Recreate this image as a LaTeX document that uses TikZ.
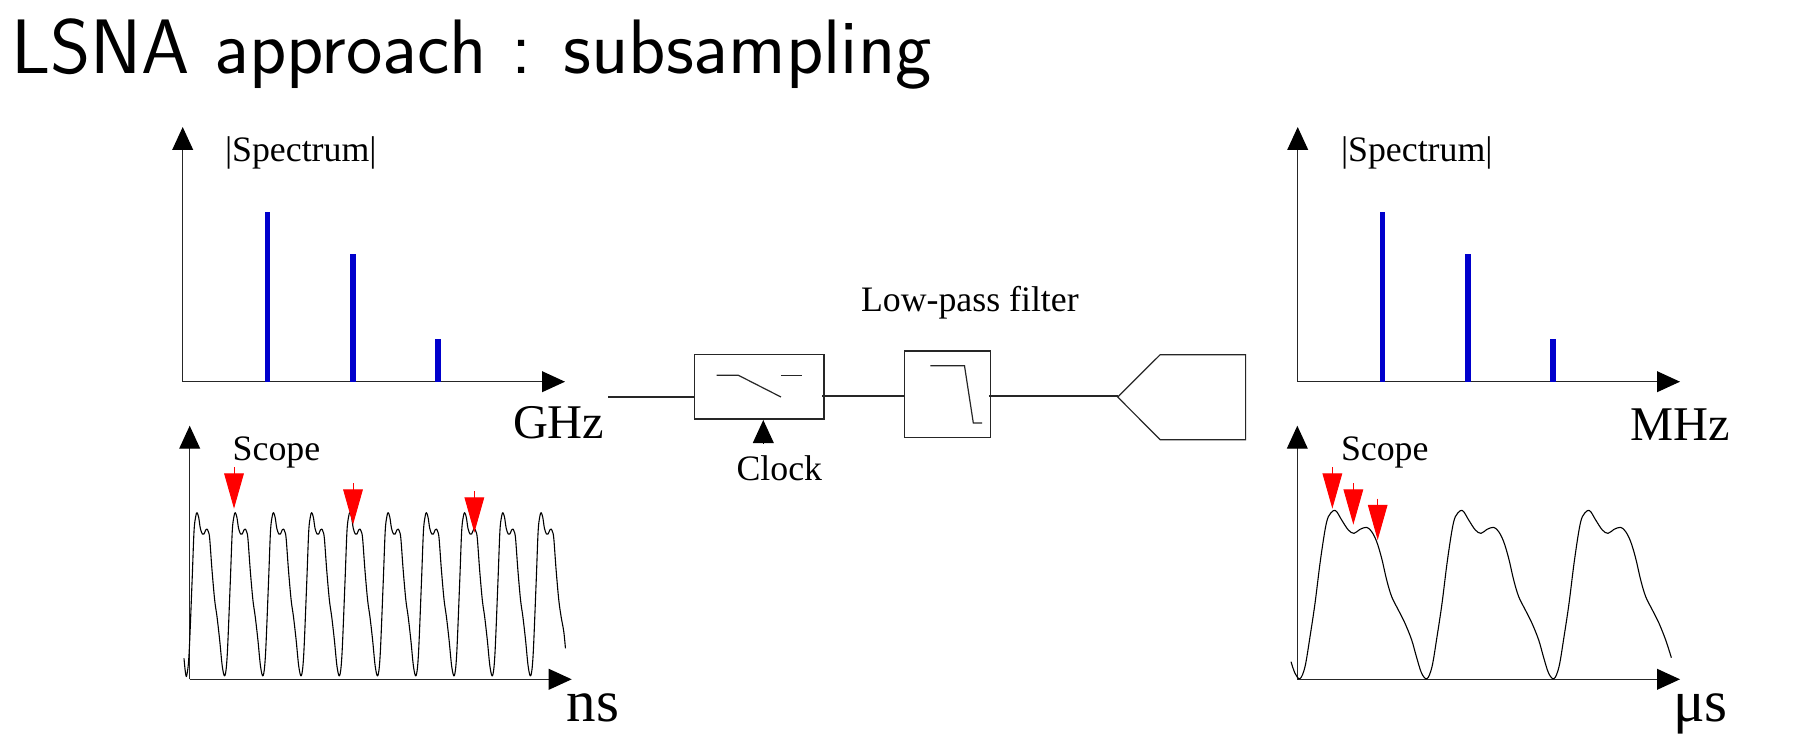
\documentclass[tikz,border=0pt]{standalone}
\usepackage{fontspec}
\setmainfont{Liberation Serif}
\usetikzlibrary{arrows.meta}
\newcommand{\fs}[1]{\fontsize{#1}{#1}\selectfont}
% build the two waveforms from one pulse shape
\newcommand{\addpulse}[3]{% #1 target macro, #2 offset, #3 list macro
  \foreach \dd/\vv in #3 {%
    \pgfmathsetmacro\xx{#2+\dd}%
    \xdef#1{#1 (\xx,\vv)}%
  }}
\def\fastfull{0/797,7/735,16/520,22/365,27/320,31/308,36/322,41/355,47/372,52/372,57/360,61/357,65/365,69/385,76/480,84/570,91/620,99/690,107/770}
\def\fastlast{0/797,7/735,16/520,22/365,27/320,31/308,36/322,41/355,47/372,52/372,57/360,61/357,65/365,69/385,76/480,84/570,91/620,99/665,104/715}
\def\slowfull{0/806,15/770,30/680,45/580,60/460,75/360,85/320,100/302,110/305,125/330,145/360,162/370,180/358,200/352,215/365,230/395,245/445,260/510,275/560,295/600,315/640,335/690,350/743,365/790}
\def\slowlast{0/806,15/770,30/680,45/580,60/460,75/360,85/320,100/302,110/305,125/330,145/360,162/370,180/358,200/352,215/365,230/395,245/445,260/510,275/560,295/600,315/640,335/690,352/743}
\gdef\fastpts{(72,745) (76,785)}
\foreach \kk in {0,...,8}{\pgfmathsetmacro\off{80+114.7*\kk}\addpulse{\fastpts}{\off}{\fastfull}}
\pgfmathsetmacro\off{80+114.7*9}\addpulse{\fastpts}{\off}{\fastlast}
\gdef\slowpts{(63,755) (75,790)}
\foreach \kk in {0,1}{\pgfmathsetmacro\off{90+381*\kk}\addpulse{\slowpts}{\off}{\slowfull}}
\pgfmathsetmacro\off{90+381*2}\addpulse{\slowpts}{\off}{\slowlast}
\definecolor{barblue}{HTML}{0000CC}
\tikzset{
  axisline/.style={line width=.65pt,color=black!85,-{Triangle[length=11.5pt,width=10.4pt,color=black]}},
  specbar/.style={line width=2.7pt,color=barblue},
  textlabel/.style={inner sep=0pt,outer sep=0pt,anchor=base west},
  smalltext/.style={textlabel,font=\fs{17.9}},
  bigtext/.style={textlabel,font=\fs{24.2}},
  unittext/.style={textlabel,font=\fs{29.5}},
  wavecurve/.style={line width=.55pt,line join=round},
  probe/.style={line width=.5pt,color=red,-{Triangle[length=17.6pt,width=9.8pt,color=red]}},
  blockline/.style={line width=.6pt,color=black!85},
  clocktip/.style={line width=.6pt,-{Triangle[length=11.5pt,width=10.4pt,color=black]}},
}
\begin{document}
\begin{tikzpicture}[x=.5pt,y=-.5pt]
\useasboundingbox[fill=white] (0,0) rectangle (1813,754);

\node[textlabel,font=\sffamily\fs{38.6}] (title) at (11,74) {LSNA approach : subsampling};

% upper left spectrum
\coordinate (o1) at (182.7,381.7);
\coordinate (y1) at (182.7,127);
\coordinate (x1) at (565,381.7);
\draw[axisline] (o1) -- (y1);
\draw[axisline] (o1) -- (x1);
\foreach \n/\x/\t in {a/267.7/211.7,b/353/254.3,c/438/339}{
  \coordinate (t\n) at (\x,\t);
  \coordinate (f\n) at (\x,381.7);
  \draw[specbar] (f\n) -- (t\n);
}
\node[smalltext] (s1) at (225,161.7) {|Spectrum|};
\node[bigtext] (ghz) at (513,438) {GHz};

% upper right spectrum
\coordinate (o2) at (1297.7,381.7);
\coordinate (y2) at (1297.7,127);
\coordinate (x2) at (1680,381.7);
\draw[axisline] (o2) -- (y2);
\draw[axisline] (o2) -- (x2);
\foreach \n/\x/\t in {d/1382.7/211.7,e/1468/254.3,g/1553/339}{
  \coordinate (t\n) at (\x,\t);
  \coordinate (f\n) at (\x,381.7);
  \draw[specbar] (f\n) -- (t\n);
}
\node[smalltext] (s2) at (1341,161.7) {|Spectrum|};
\node[bigtext] (mhz) at (1630,440.7) {MHz};

% lower left scope
\coordinate (o3) at (189.7,679.3);
\coordinate (y3) at (189.7,425.7);
\coordinate (x3) at (571.7,679.3);
\draw[axisline] (o3) -- (y3);
\draw[axisline] (o3) -- (x3);
\node[smalltext] (sc1) at (232.7,460) {Scope};
\node[unittext] (ns) at (566.5,721.7) {ns};
\begin{scope}[shift={(80pt,-205pt)},x=.16667pt,y=-.16667pt]
  \edef\wavedraw{\noexpand\draw[wavecurve] plot[smooth,tension=.55] coordinates {\fastpts};}\wavedraw
  \foreach \n/\x/\a/\b in {p/222/172/296,q/579/220/344,r/943/244/368}{
    \coordinate (\n0) at (\x,\a);
    \coordinate (\n1) at (\x,\b);
    \draw[probe] (\n0) -- (\n1);
  }
\end{scope}

% lower right scope
\coordinate (o4) at (1297.3,679.3);
\coordinate (y4) at (1297.3,425.7);
\coordinate (x4) at (1680,679.3);
\draw[axisline] (o4) -- (y4);
\draw[axisline] (o4) -- (x4);
\node[smalltext] (sc2) at (1341,460) {Scope};
\node[unittext] (us) at (1673,721.7) {μs};
\begin{scope}[shift={(635pt,-205pt)},x=.16667pt,y=-.16667pt]
  \edef\wavedraw{\noexpand\draw[wavecurve] plot[smooth,tension=.55] coordinates {\slowpts};}\wavedraw
  \foreach \n/\x/\a/\b in {u/187/172/296,v/250/220/344,w/323/266/390}{
    \coordinate (\n0) at (\x,\a);
    \coordinate (\n1) at (\x,\b);
    \draw[probe] (\n0) -- (\n1);
  }
\end{scope}

% centre chain (crop scale: x 2.376, y 3)
\begin{scope}[shift={(300pt,-135pt)},x=.21044pt,y=-.16667pt]
  \coordinate (in) at (20,381);
  \coordinate (swW) at (225,381);
  \coordinate (swE) at (528,378);
  \coordinate (lpW) at (723,378);
  \coordinate (lpE) at (924,378);
  \coordinate (adc) at (1230,378);
  \coordinate (clkA) at (388,520);
  \coordinate (clkB) at (388,450);
  \draw[blockline] (225,254) rectangle (532,447);
  \draw[blockline] (277,316) -- (329,316) -- (430,381);
  \draw[blockline] (430,316) -- (481,316);
  \draw[blockline] (723,243) rectangle (928,502);
  \draw[blockline] (785,287) -- (866,287) -- (887,459) -- (908,459);
  \draw[blockline,line join=miter] (1230,381) -- (1331,254) -- (1534,254) -- (1534,509) -- (1331,509) -- cycle;
  \draw[blockline] (in) -- (swW);
  \draw[blockline] (swE) -- (lpW);
  \draw[blockline] (lpE) -- (adc);
  \draw[clocktip] (clkA) -- (clkB);
\end{scope}
\node[smalltext] (lp) at (861,311) {Low-pass filter};
\node[smalltext,anchor=base] (clk) at (779.3,480) {Clock};
\end{tikzpicture}
\end{document}
